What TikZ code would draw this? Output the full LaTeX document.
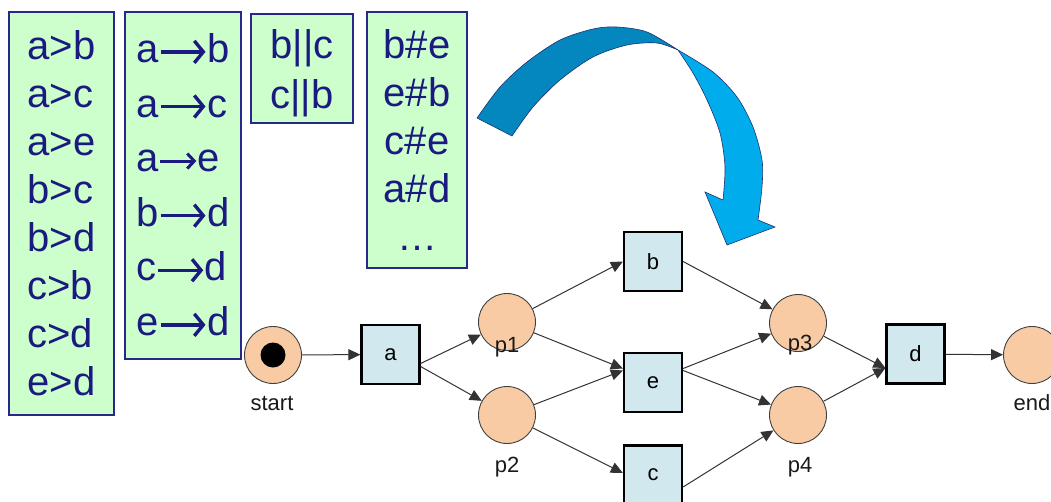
\documentclass[tikz,border=0pt]{standalone}
\usepackage{fontspec}
\setmainfont{Liberation Sans}
\usetikzlibrary{arrows.meta,calc}
\definecolor{relfill}{RGB}{204,255,204}
\definecolor{reldraw}{RGB}{40,40,140}
\definecolor{reltext}{RGB}{26,26,128}
\definecolor{transfill}{RGB}{209,232,238}
\definecolor{placefill}{RGB}{248,203,165}
\definecolor{arrowdark}{RGB}{4,134,190}
\definecolor{arrowlight}{RGB}{0,172,236}
\definecolor{arrowline}{RGB}{30,50,110}
\newsavebox{\causalarrow}
\newsavebox{\causalarrowshort}
% a thick arrow glyph for the causality relation: #1 box, #2 length, #3 line width, #4 head length, #5 head width
\newcommand{\makecausalarrow}[5]{%
  \sbox{#1}{%
    \begin{pgfpicture}%
      \pgfsetbaseline{0pt}%
      \pgfsetcolor{reltext}%
      \pgfsetlinewidth{#3}%
      \pgfsetarrowsend{Straight Barb[length=#4,width=#5,line width=#3]}%
      \pgfpathmoveto{\pgfpoint{0pt}{10.6pt}}%
      \pgfpathlineto{\pgfpoint{#2}{10.6pt}}%
      \pgfusepath{stroke}%
    \end{pgfpicture}}}
\begin{document}
\makecausalarrow{\causalarrow}{45pt}{3.4pt}{9pt}{22pt}%
\makecausalarrow{\causalarrowshort}{36pt}{3pt}{7pt}{15pt}%
\begin{tikzpicture}[x=1pt,y=-1pt,
  relbox/.style={draw=reldraw, line width=1.2pt, fill=relfill, text=reltext,
    align=center, inner sep=0pt},
  reltxt/.style={text=reltext, align=center, inner sep=0pt},
  trans/.style={draw=black, line width=2.2pt, fill=transfill,
    minimum width=58pt, minimum height=59pt, inner sep=0pt,
    font=\fontsize{22}{26}\selectfont},
  place/.style={circle, draw=black!75, line width=0.9pt, fill=placefill,
    minimum size=57pt, inner sep=0pt},
  lbl/.style={font=\fontsize{22}{26}\selectfont, text=black!90},
  flow/.style={draw=black!80, line width=1pt, -{Triangle[length=12pt,width=11pt]}},
]
\useasboundingbox (0,0) rectangle (1051,501);
\clip (0,0) rectangle (1051,501);

% footprint relations
\node[relbox, align=left, minimum width=105pt, minimum height=403pt,
  font=\fontsize{40}{48}\selectfont] (succ) at (61.5,213.5)
  {a>b\\a>c\\a>e\\b>c\\b>d\\c>b\\c>d\\e>d};
\node[relbox, align=left, minimum width=116pt, minimum height=347pt,
  font=\fontsize{40}{54.6}\selectfont] (causal) at (183,185.5)
  {a\usebox{\causalarrow}b\\a\usebox{\causalarrow}c\\a\usebox{\causalarrowshort}e\\
   b\usebox{\causalarrow}d\\c\usebox{\causalarrow}d\\e\usebox{\causalarrow}d};
\node[relbox, minimum width=102pt, minimum height=109pt] (par) at (302,68.5) {};
\node[reltxt, font=\fontsize{40}{50}\selectfont] (partxt) at (302,73.5)
  {b||c\\c||b};
\node[relbox, minimum width=100pt, minimum height=256pt,
  font=\fontsize{40}{48}\selectfont] (choice) at (417,140)
  {b\#e\\e\#b\\c\#e\\a\#d\\…};

% curved ribbon arrow
\filldraw[fill=arrowdark, draw=arrowline, line width=0.6pt]
  plot[smooth] coordinates {(477,118) (500,87) (527,62) (560,40) (593,29) (617,27) (647,32) (678,50)}
  -- plot[smooth] coordinates {(678,50) (657,43) (627,45) (593,57) (560,80) (533,107) (512,136)}
  -- cycle;
\filldraw[fill=arrowlight, draw=arrowline, line width=0.6pt]
  plot[smooth] coordinates {(678,50) (713,72) (737,97) (753,127) (762,160) (762,187) (758,220)}
  -- (775,227) -- (727,245) -- (705,192)
  -- plot[smooth] coordinates {(723,200) (725,167) (720,133) (707,100) (693,73) (678,50)}
  -- cycle;

% places
\node[place] (start) at (273,355) {};
\node[circle, fill=black, minimum size=25pt, inner sep=0pt] (token) at (start) {};
\node[place] (p1) at (507,322) {};
\node[place] (p2) at (507,415) {};
\node[place] (p3) at (798,323) {};
\node[place] (p4) at (798,415) {};
\node[place] (endp) at (1032,355) {};

% transitions
\node[trans] (a) at (390.5,354.5) {a};
\node[trans] (b) at (653,261.5) {b};
\node[trans] (e) at (653,382.5) {e};
\node[trans] (c) at (653,475) {c};
\node[trans] (d) at (915.5,354) {d};

% place labels
\node[lbl] (startlbl) at (272,403) {start};
\node[lbl] (p1lbl) at (507,347) {p1};
\node[lbl] (p2lbl) at (507,467) {p2};
\node[lbl] (p3lbl) at (800,345) {p3};
\node[lbl] (p4lbl) at (800,467) {p4};
\node[lbl] (endlbl) at (1032,403) {end};

% arcs
\draw[flow] (start) -- (a);
\draw[flow] ($(a.east)+(0,9)$) -- (p1);
\draw[flow] ($(a.east)+(0,12)$) -- (p2);
\draw[flow] (p1) -- (b.west);
\draw[flow] (p1) -- ($(e.west)+(0,-14)$);
\draw[flow] (p2) -- ($(e.west)+(0,-12)$);
\draw[flow] (p2) -- ($(c.west)+(0,-2)$);
\draw[flow] (b.east) -- (p3);
\draw[flow] ($(e.east)+(0,-14)$) -- (p3);
\draw[flow] ($(e.east)+(0,-12)$) -- (p4);
\draw[flow] ($(c.east)+(0,12)$) -- (p4);
\draw[flow] (p3) -- ($(d.west)+(0,14)$);
\draw[flow] (p4) -- ($(d.west)+(0,14)$);
\draw[flow] (d) -- (endp);
\end{tikzpicture}
\end{document}
